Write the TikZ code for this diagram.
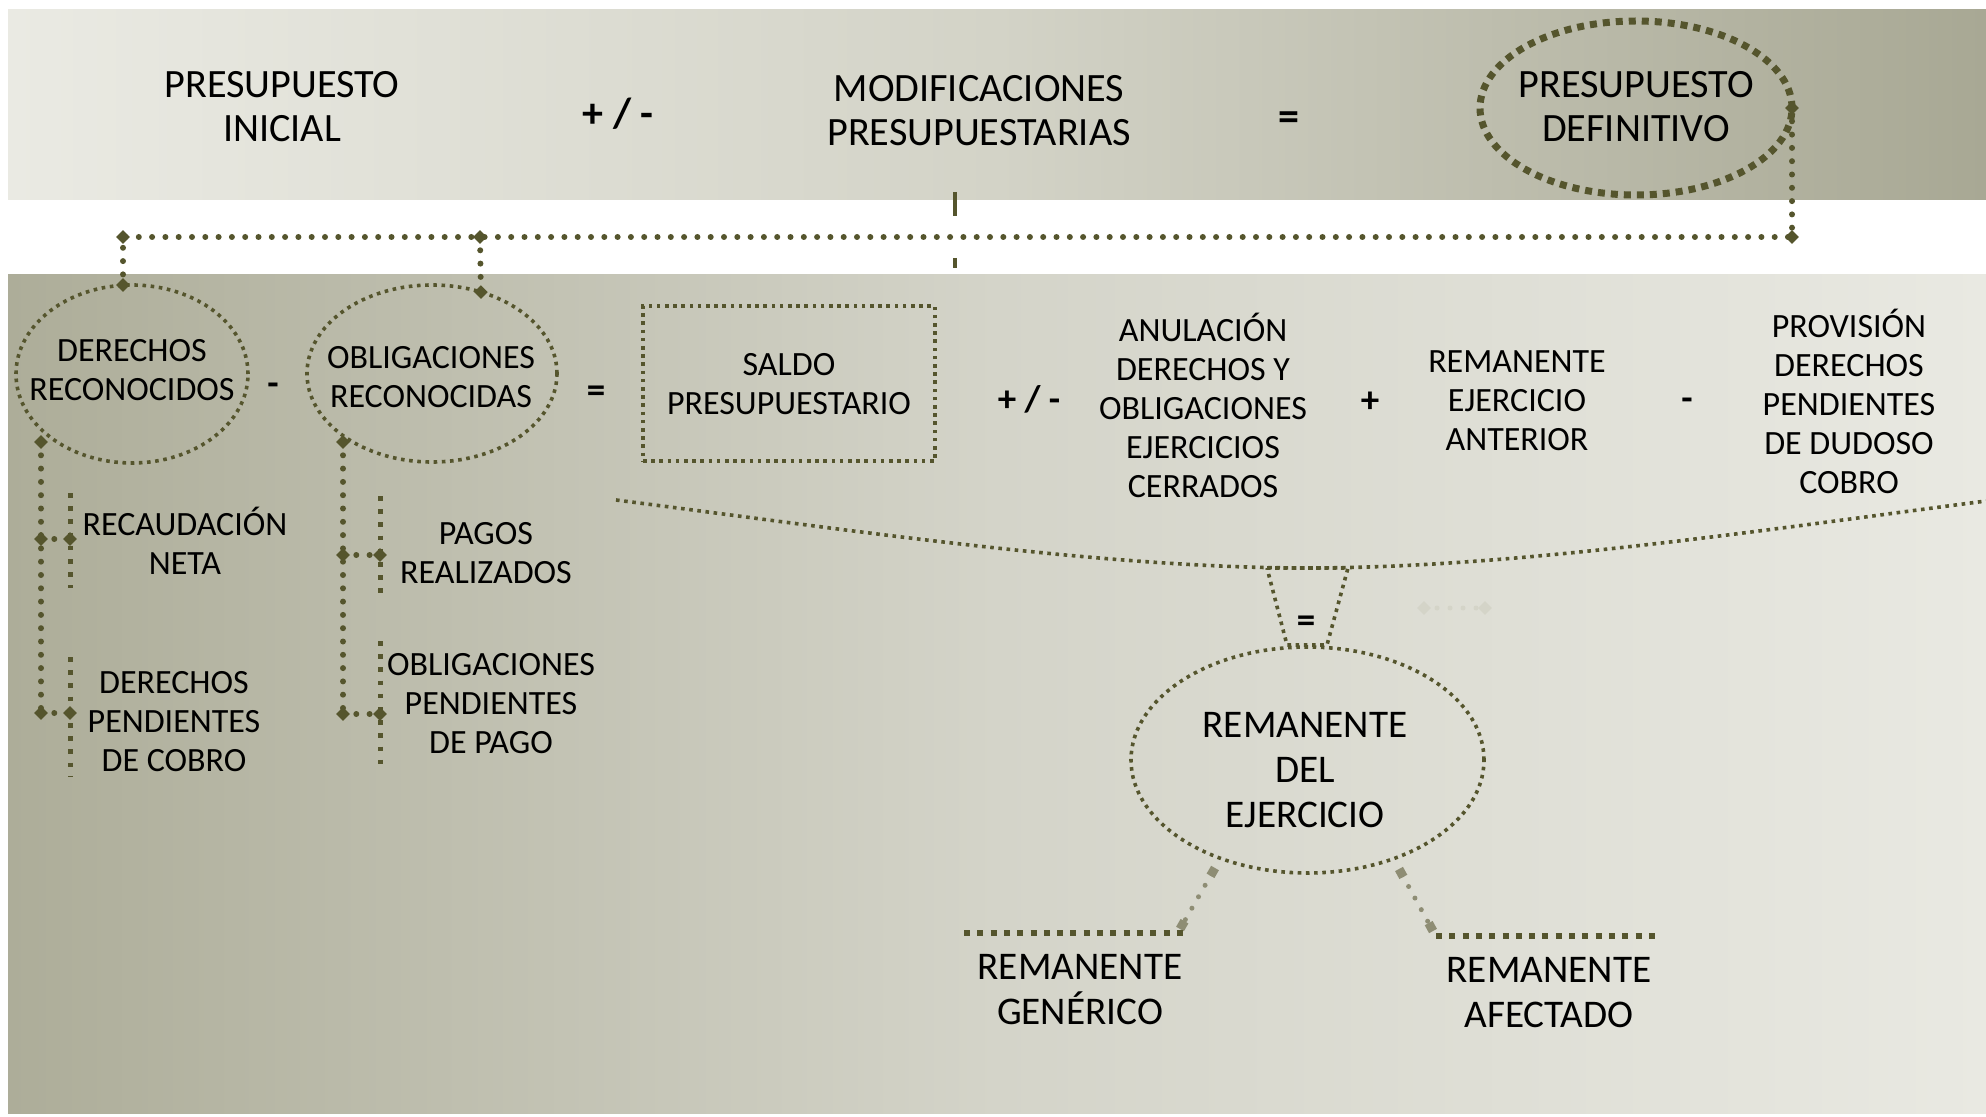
\documentclass[tikz,border=0pt]{standalone}
\usepackage{fontspec}
\setmainfont{Carlito}
\usetikzlibrary{shapes.geometric,arrows.meta,calc}
\definecolor{ol}{RGB}{85,85,45}
\definecolor{ltc}{RGB}{142,141,116}
\definecolor{fnt}{RGB}{212,212,200}
\definecolor{topL}{RGB}{234,234,227}
\definecolor{topM}{RGB}{211,211,199}
\definecolor{topR}{RGB}{168,168,148}
\definecolor{botL}{RGB}{173,173,153}
\definecolor{botM}{RGB}{212,212,201}
\definecolor{botR}{RGB}{233,233,226}
\begin{document}
\begin{tikzpicture}[x=0.5pt,y=-0.5pt,
  txt/.style={align=center,text=black,inner sep=0pt,outer sep=0pt},
  bigtxt/.style={txt,font=\fontsize{20.1pt}{22pt}\selectfont},
  smtxt/.style={txt,font=\fontsize{17pt}{19.5pt}\selectfont},
  remtxt/.style={txt,font=\fontsize{19.6pt}{22.5pt}\selectfont},
  opbig/.style={txt,font=\fontsize{21pt}{22pt}\selectfont\bfseries},
  opsm/.style={txt,font=\fontsize{18.5pt}{20pt}\selectfont\bfseries},
  dotline/.style={draw=ol,line width=3pt,line cap=round,dash pattern=on 0pt off 6.65pt},
  sqline/.style={draw=ol,line width=1.8pt,dash pattern=on 1.8pt off 2.3pt},
  bigsq/.style={draw=ol,line width=3.5pt,dash pattern=on 3.5pt off 3pt},
  barsq/.style={draw=ol,line width=2.5pt,dash pattern=on 2.3pt off 4.3pt},
  thicksq/.style={draw=ol,line width=3pt,dash pattern=on 3pt off 3.65pt},
  ltdot/.style={draw=ltc,line width=2.5pt,line cap=round,dash pattern=on 0pt off 6.6pt,
    {Square[length=4.5pt,width=4.5pt]}-{Square[length=4.5pt,width=4.5pt]}},
  dmd/.style={diamond,fill=ol,inner sep=0pt,minimum size=6.8pt,outer sep=0pt},
  ell/.style={ellipse,inner sep=0pt,outer sep=0pt},
]
\useasboundingbox (0,0) rectangle (1986,1117);
\fill[white] (0,0) rectangle (1986,1117);
\shade[left color=topL,right color=topR,middle color=topM] (8,10) rectangle (1986,200);
\shade[left color=botL,right color=botR,middle color=botM] (8,275) rectangle (1986,1113);

% top band
\node[bigtxt] (pi) at (282,107) {PRESUPUESTO\\INICIAL};
\node[opbig] (op1) at (618,114) {+ / -};
\node[bigtxt] (mp) at (979,110.5) {MODIFICACIONES\\PRESUPUESTARIAS};
\node[opbig] (op2) at (1289,121) {=};
\node[ell,bigsq,minimum width=156pt,minimum height=87pt] (pd) at (1636,108) {};
\node[bigtxt] (pdt) at (1636,107) {PRESUPUESTO\\DEFINITIVO};

\coordinate (mv1) at (955,192);
\coordinate (mv2) at (955,268);
\draw[draw=ol,line width=1.8pt,dash pattern=on 12pt off 21pt] (mv1) -- (mv2);

% second row
\node[ell,sqline,minimum width=116pt,minimum height=89pt] (der) at (132,374) {};
\node[smtxt] (dert) at (132,370.5) {DERECHOS\\RECONOCIDOS};
\node[opsm] (op3) at (273,389) {-};
\node[ell,sqline,minimum width=125pt,minimum height=88.5pt] (obl) at (432,373.5) {};
\node[smtxt] (oblt) at (431,377) {OBLIGACIONES\\RECONOCIDAS};
\node[opsm] (op4) at (596,394) {=};
\node[sqline,minimum width=146pt,minimum height=77.5pt,inner sep=0pt] (sal) at (789,383.5) {};
\node[smtxt] (salt) at (789,384) {SALDO\\PRESUPUESTARIO};
\node[opsm] (op5) at (1029,399) {+ / -};
\node[smtxt] (anu) at (1203,408.5) {ANULACI\smash{Ó}N\\DERECHOS Y\\OBLIGACIONES\\EJERCICIOS\\CERRADOS};
\node[opsm] (op6) at (1370,402) {+};
\node[smtxt] (rea) at (1517,400.5) {REMANENTE\\EJERCICIO\\ANTERIOR};
\node[opsm] (op7) at (1687,404) {-};
\node[smtxt] (pro) at (1849,404.5) {PROVISI\smash{Ó}N\\DERECHOS\\PENDIENTES\\DE DUDOSO\\COBRO};

% top connectors
\coordinate (tL) at (123,237);
\coordinate (tM) at (480,237);
\draw[dotline] (pd.east) -- (pd.east |- tL) -- (tL) -- (tL |- der.north);
\draw[dotline] (tM) -- (obl.59.6);
\node[dmd] (k1) at (pd.east) {};
\node[dmd] (k2) at (pd.east |- tL) {};
\node[dmd] (k3) at (tL) {};
\node[dmd] (k4) at (tL |- der.north) {};
\node[dmd] (k5) at (tM) {};
\node[dmd] (k6) at (obl.59.6) {};

% left tree
\node[smtxt] (rec) at (185,544) {RECAUDACI\smash{Ó}N\\NETA};
\node[smtxt] (dpc) at (174,722) {DERECHOS\\PENDIENTES\\DE COBRO};
\coordinate (dA) at (41,442);
\coordinate (dJ1) at (41,539);
\coordinate (dJ2) at (41,713);
\coordinate (dB1) at (70,539);
\coordinate (dB2) at (70,713);
\draw[dotline] (dA) -- (dJ2);
\draw[dotline] (dJ1) -- (dB1);
\draw[dotline] (dJ2) -- (dB2);
\coordinate (db1a) at (70,493);
\coordinate (db1b) at (70,588);
\coordinate (db2a) at (70,657);
\coordinate (db2b) at (70,776);
\draw[barsq] (db1a) -- (db1b);
\draw[barsq] (db2a) -- (db2b);
\foreach \c in {dA,dJ1,dJ2,dB1,dB2} \node[dmd] (m-\c) at (\c) {};

% right tree
\node[smtxt] (pag) at (486,553) {PAGOS\\REALIZADOS};
\node[smtxt] (opp) at (491,704) {OBLIGACIONES\\PENDIENTES\\DE PAGO};
\coordinate (oA) at (343,442);
\coordinate (oJ1) at (343,555);
\coordinate (oJ2) at (343,714);
\coordinate (oB1) at (380,555);
\coordinate (oB2) at (380,714);
\draw[dotline] (oA) -- (oJ2);
\draw[dotline] (oJ1) -- (oB1);
\draw[dotline] (oJ2) -- (oB2);
\coordinate (ob1a) at (380,496);
\coordinate (ob1b) at (380,593);
\coordinate (ob2a) at (380,641);
\coordinate (ob2b) at (380,771);
\draw[barsq] (ob1a) -- (ob1b);
\draw[barsq] (ob2a) -- (ob2b);
\foreach \c in {oA,oJ1,oJ2,oB1,oB2} \node[dmd] (m-\c) at (\c) {};

% big curve and funnel
\coordinate (cvL) at (616,500);
\coordinate (cvM) at (1307,568);
\coordinate (cvR) at (1986,501);
\draw[sqline] (cvL) .. controls (850,530) and (1100,568) .. (cvM) .. controls (1514,568) and (1755,531) .. (cvR);
\node[ell,sqline,minimum width=176.5pt,minimum height=113pt] (rem) at (1307.5,760) {};
\node[remtxt] (remt) at (1305,770) {REMANENTE\\DEL\\EJERCICIO};
\coordinate (tzA) at (1267,568);
\coordinate (tzB) at (1348,568);
\coordinate (tzC) at (1327,645);
\coordinate (tzD) at (1287,645);
\draw[sqline] (tzA) -- (tzB) -- (tzC) -- (tzD) -- cycle;
\node[opsm] (op8) at (1306,624) {=};

% faint mark
\coordinate (f1) at (1424,608);
\coordinate (f2) at (1485,608);
\draw[draw=fnt,line width=2.5pt,line cap=round,dash pattern=on 0pt off 6.5pt] (f1) -- (f2);
\node[dmd,fill=fnt] (mf1) at (f1) {};
\node[dmd,fill=fnt] (mf2) at (f2) {};

% remanente branches
\coordinate (g1) at (1215,868);
\coordinate (g2) at (1180,929);
\coordinate (a1) at (1399,869);
\coordinate (a2) at (1433,931);
\draw[ltdot] (g1) -- (g2);
\draw[ltdot] (a1) -- (a2);
\coordinate (u1) at (964,933);
\coordinate (u2) at (1188,933);
\coordinate (u3) at (1436,936);
\coordinate (u4) at (1658,936);
\draw[thicksq] (u1) -- (u2);
\draw[thicksq] (u3) -- (u4);
\node[remtxt] (rg) at (1080,989.5) {REMANENTE\\GEN\smash{É}RICO};
\node[remtxt] (ra) at (1549,993) {REMANENTE\\AFECTADO};
\end{tikzpicture}
\end{document}
